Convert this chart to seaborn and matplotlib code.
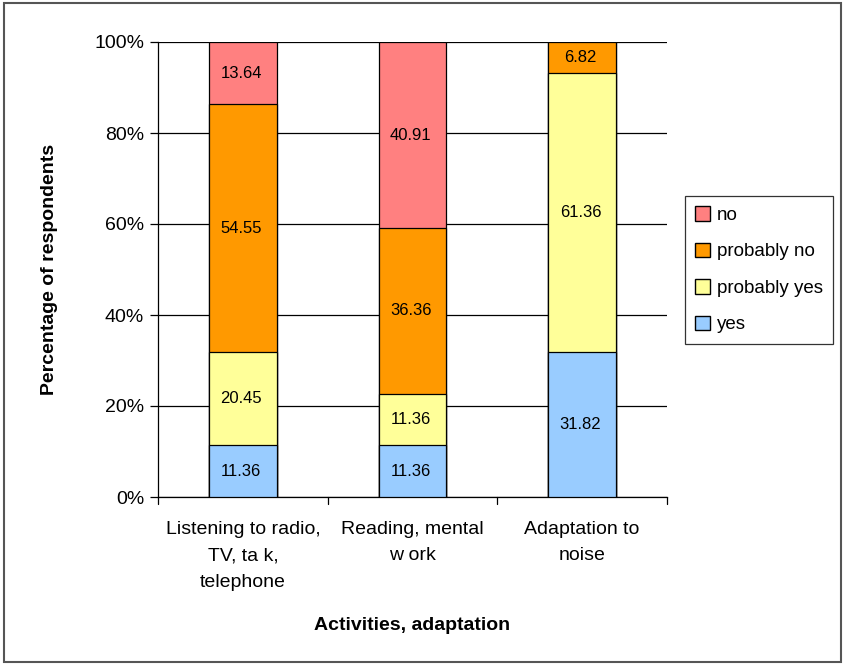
import matplotlib
matplotlib.use("Agg")
import matplotlib.pyplot as plt
import seaborn as sns
import numpy as np
import pandas as pd
from matplotlib.patches import Patch, Rectangle

categories = ["Listening to radio,\nTV, ta k,\ntelephone", "Reading, mental\nw ork", "Adaptation to\nnoise"]
series = ["yes", "probably yes", "probably no", "no"]
yes = [11.36, 11.36, 31.82]
probably_yes = [20.45, 11.36, 61.36]
probably_no = [54.55, 36.36, 6.82]
no = [13.64, 40.91, 0.0]
colors = {"no": "#FF8080", "probably no": "#FF9900", "probably yes": "#FFFF99", "yes": "#99CCFF"}
yticklabels = ["0%", "20%", "40%", "60%", "80%", "100%"]

sns.set_style("white")
plt.rcParams["font.family"] = ["Liberation Sans", "DejaVu Sans"]
plt.rcParams["text.color"] = "black"
plt.rcParams["axes.labelcolor"] = "black"
plt.rcParams["xtick.color"] = "black"
plt.rcParams["ytick.color"] = "black"

fig = plt.figure(figsize=(8.43, 6.65), dpi=100)
ax = fig.add_axes([158/843, 1 - 497/665, (667-158)/843, (497-42)/665])

vals = {"yes": yes, "probably yes": probably_yes, "probably no": probably_no, "no": no}
cum = np.zeros(3)
cums = {}
for s in series:
    cum = cum + np.array(vals[s])
    cums[s] = cum.copy()

# draw from top (largest cumulative) to bottom
for s in reversed(series):
    df = pd.DataFrame({"cat": categories, "val": cums[s]})
    sns.barplot(data=df, x="cat", y="val", color=colors[s], edgecolor="black",
                linewidth=0.9, width=0.4, saturation=1, ax=ax, zorder=3)

# labels
for s in series:
    bottoms = cums[s] - np.array(vals[s])
    for i, v in enumerate(vals[s]):
        if v > 0:
            ax.text(i - 0.01, bottoms[i] + v / 2, f"{v:.2f}", ha="center", va="center",
                    fontsize=12, color="black", zorder=5)

ax.set_ylim(0, 100)
ax.set_xlim(-0.5, 2.5)
ax.set_yticks([0, 20, 40, 60, 80, 100])
ax.set_yticklabels(yticklabels, fontsize=14)
ax.yaxis.grid(True, color="black", linewidth=0.9, zorder=0)
ax.set_axisbelow(True)
ax.set_xticks([0, 1, 2])
ax.set_xticklabels(categories, fontsize=14, linespacing=1.75)
ax.tick_params(axis="x", length=0, pad=17)
ax.tick_params(axis="y", length=6, width=0.9, color="black", direction="out", left=True, pad=4)
for b in [-0.5, 0.5, 1.5, 2.5]:
    ax.plot([b, b], [0, -1.5], color="black", lw=0.9, clip_on=False, zorder=4)

for sp in ["top", "right"]:
    ax.spines[sp].set_visible(False)
for sp in ["left", "bottom"]:
    ax.spines[sp].set_color("black")
    ax.spines[sp].set_linewidth(0.9)

ax.set_xlabel("Activities, adaptation", fontsize=14, fontweight="bold", labelpad=19)
ax.set_ylabel("Percentage of respondents", fontsize=14, fontweight="bold", labelpad=26)

handles = [Patch(facecolor=colors[s], edgecolor="black", label=s) for s in ["no", "probably no", "probably yes", "yes"]]
leg = fig.legend(handles=handles, loc="upper left", bbox_to_anchor=(685/843, 1 - 196/665),
                 fontsize=13.5, frameon=True, fancybox=False, edgecolor="black",
                 handlelength=0.8, handleheight=0.8, handletextpad=0.35,
                 labelspacing=1.0, borderpad=0.55, borderaxespad=0)
leg.get_frame().set_linewidth(0.9)

fig.patches.append(Rectangle((4/843, 3/665), 837/843, 659/665, transform=fig.transFigure,
                             fill=False, edgecolor="#555555", linewidth=1.5))

fig.savefig("out.png", dpi=100)
